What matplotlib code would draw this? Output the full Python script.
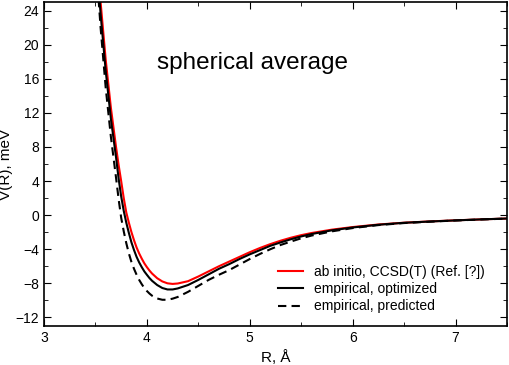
import matplotlib
matplotlib.use("Agg")
import matplotlib.pyplot as plt
from matplotlib.ticker import MultipleLocator

plt.rcParams['font.family'] = ['Liberation Sans', 'DejaVu Sans']

# distances, Angstrom
r_vals = [3.50, 3.55, 3.60, 3.65, 3.70, 3.725, 3.75, 3.775, 3.80, 3.825,
          3.85, 3.875, 3.90, 3.925, 3.95, 3.975, 4.00, 4.025, 4.05, 4.10,
          4.15, 4.20, 4.25, 4.30, 4.40, 4.50, 4.60, 4.70, 4.80, 4.90,
          5.00, 5.10, 5.20, 5.30, 5.40, 5.50, 5.60, 5.80, 6.00, 6.25,
          6.50, 6.75, 7.00, 7.25, 7.50]

# ab initio CCSD(T), meV
v_abinitio = [33.0, 25.0, 18.2, 12.6, 8.0, 5.9, 4.0, 2.0, 0.3, -0.9,
              -2.0, -2.95, -3.8, -4.5, -5.1, -5.65, -6.1, -6.5, -6.85, -7.4,
              -7.78, -8.0, -8.07, -8.02, -7.75, -7.2, -6.6, -6.0, -5.45, -4.9,
              -4.35, -3.85, -3.4, -3.0, -2.65, -2.35, -2.1, -1.7, -1.4, -1.1,
              -0.89, -0.74, -0.61, -0.5, -0.4]

# empirical, optimized
v_optimized = [31.5, 23.6, 16.9, 11.3, 6.8, 4.3, 2.2, 0.5, -0.9, -2.1,
               -3.2, -4.1, -4.9, -5.55, -6.1, -6.6, -7.0, -7.38, -7.7, -8.2,
               -8.55, -8.72, -8.72, -8.6, -8.2, -7.6, -6.95, -6.3, -5.75, -5.15,
               -4.6, -4.1, -3.6, -3.2, -2.83, -2.5, -2.22, -1.78, -1.45, -1.13,
               -0.9, -0.75, -0.62, -0.5, -0.4]

# empirical, predicted
v_predicted = [30.5, 22.0, 14.9, 9.2, 4.4, 1.9, -0.3, -1.9, -3.3, -4.5,
               -5.5, -6.3, -7.0, -7.6, -8.1, -8.55, -8.9, -9.2, -9.45, -9.78,
               -9.93, -9.93, -9.8, -9.6, -9.0, -8.3, -7.6, -7.0, -6.45, -5.8,
               -5.15, -4.55, -4.0, -3.5, -3.1, -2.72, -2.4, -1.9, -1.52, -1.17,
               -0.93, -0.77, -0.63, -0.51, -0.41]

fig = plt.figure(figsize=(5.1, 3.65), dpi=100)
ax = fig.add_axes([0.0863, 0.107, 0.9077, 0.8875])

ax.plot(r_vals, v_abinitio, color='red', lw=1.5, label='ab initio, CCSD(T) (Ref. [?])')
ax.plot(r_vals, v_optimized, color='black', lw=1.5, label='empirical, optimized')
ax.plot(r_vals, v_predicted, color='black', lw=1.5, ls=(0, (4, 2.5)), label='empirical, predicted')

ax.set_xlim(3, 7.5)
ax.set_ylim(-13, 25)
ax.xaxis.set_major_locator(MultipleLocator(1))
ax.xaxis.set_minor_locator(MultipleLocator(0.5))
ax.yaxis.set_major_locator(MultipleLocator(4))
ax.yaxis.set_minor_locator(MultipleLocator(2))
ax.tick_params(which='both', direction='in', top=True, right=True, labelsize=10)
ax.tick_params(which='major', length=5)
ax.tick_params(which='minor', length=3)
for s in ax.spines.values():
    s.set_linewidth(1.2)

ax.set_xlabel('R, Å', fontsize=11, labelpad=4)
ax.set_ylabel('V(R), meV', fontsize=11, labelpad=2)
ax.text(4.1, 17.9, 'spherical average', fontsize=17.5, va='center')

ax.legend(loc='lower right', bbox_to_anchor=(0.98, 0.0), frameon=False, fontsize=10,
          handlelength=1.8, handletextpad=0.8, labelspacing=0.25)

fig.savefig('out.png', dpi=100)
